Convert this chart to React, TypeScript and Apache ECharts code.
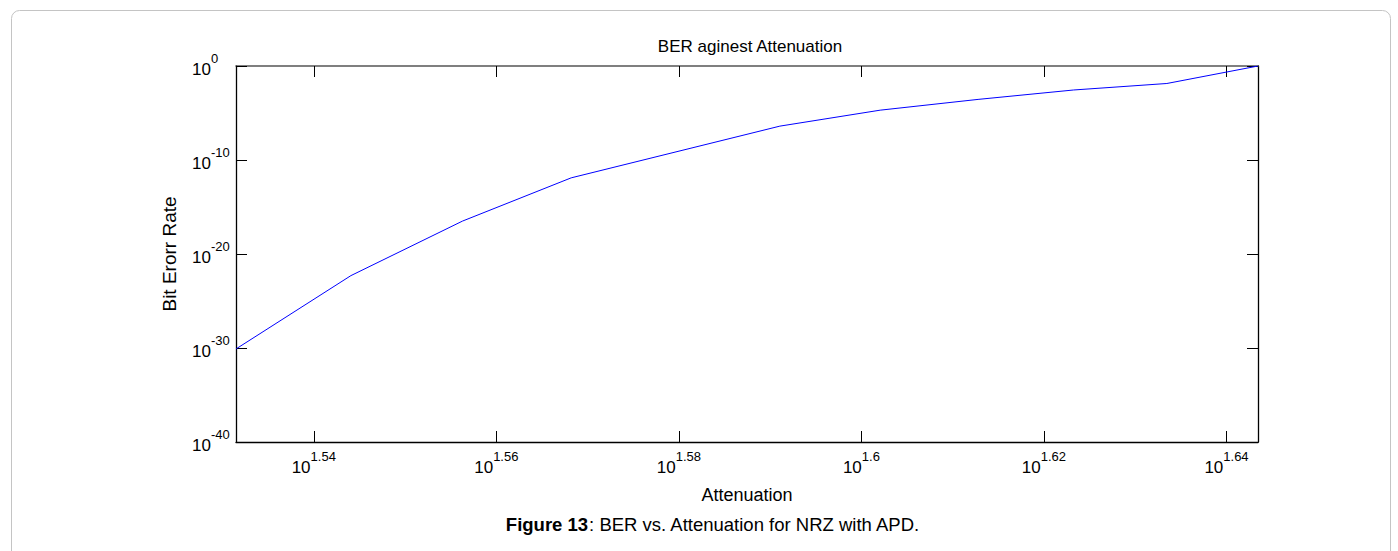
import React, { useEffect, useRef, useState } from "react";
import * as echarts from "echarts";

// Attenuation (dB) at each point of the curve
const attenuation = [34, 35, 36, 37, 39, 40, 41, 42, 43, 44];
// Bit error rate
const ber = [7.9e-31, 5.0e-23, 3.2e-17, 1.26e-12, 4.0e-7, 2.0e-5, 2.8e-4, 2.8e-3, 1.38e-2, 1];
// x tick positions, as exponents of 10
const xTickExponents = [1.54, 1.56, 1.58, 1.6, 1.62, 1.64];
// y axis range and step, as exponents of 10
const yExpMin = -40;
const yExpMax = 0;
const yExpStep = 10;

const titleText = "BER aginest Attenuation";
const xName = "Attenuation";
const yName = "Bit Erorr Rate";
const captionBold = "Figure 13";
const captionRest = ": BER vs. Attenuation for NRZ with APD.";

const FONT = "'Liberation Sans', Arial, sans-serif";

export default function App() {
  const ref = useRef<HTMLDivElement>(null);
  const [err, setErr] = useState<string>("");
  useEffect(() => {
    if (!ref.current) return;
    const chart = echarts.init(ref.current, null, { renderer: "svg" });
    // log10 axes: positions come from the library's value scale on log10(values)
    const xMin = Math.log10(attenuation[0]);
    const xMax = Math.log10(attenuation[attenuation.length - 1]);
    const rich = {
      b: { fontSize: 17, lineHeight: 19, padding: [6, 0, 0, 0], color: "#000", fontFamily: FONT },
      s: { fontSize: 13, lineHeight: 13, padding: [0, 0, 16, 0], color: "#000", fontFamily: FONT },
    };
    const mkLine = (color = "#000", width = 1.3) => ({
      show: true,
      onZero: false,
      lineStyle: { color, width },
    });
    const tick = (custom?: number[]) => ({
      show: true,
      inside: true,
      length: 11,
      ...(custom ? { customValues: custom } : {}),
      lineStyle: { color: "#000", width: 1 },
    });
    const option: any = {
      animation: false,
      backgroundColor: "#fff",
      textStyle: { fontFamily: FONT },
      title: [
        {
          text: titleText,
          left: 745,
          top: 33,
          textAlign: "center",
          textStyle: { fontSize: 17, fontWeight: "normal", color: "#000", fontFamily: FONT },
        },
        {
          text: `{bold|${captionBold}}{reg|${captionRest}}`,
          left: 708,
          top: 510,
          textAlign: "center",
          textStyle: {
            fontSize: 18.5,
            color: "#000",
            fontFamily: FONT,
            rich: {
              bold: { fontSize: 18.5, fontWeight: "bold", color: "#000", fontFamily: FONT },
              reg: { fontSize: 18.5, fontWeight: "normal", color: "#000", fontFamily: FONT },
            },
          },
        },
      ],
      graphic: [
        {
          type: "rect",
          left: 9,
          top: 8,
          shape: { width: 1379, height: 580, r: 8 },
          style: { fill: "none", stroke: "#c4c4c4", lineWidth: 1 },
          z: -10,
        },
      ],
      grid: {
        left: 236,
        top: 66,
        width: 1022,
        height: 376,
        containLabel: false,
        outerBoundsMode: "none",
      },
      xAxis: [
        {
          type: "value",
          position: "bottom",
          min: xMin,
          max: xMax,
          name: xName,
          nameLocation: "middle",
          nameGap: 44,
          nameTextStyle: { fontSize: 18, color: "#000", fontFamily: FONT },
          axisLine: mkLine(),
          splitLine: { show: false },
          axisTick: tick(xTickExponents),
          axisLabel: {
            show: true,
            margin: 13,
            customValues: xTickExponents,
            formatter: (v: number) => `{b|10}{s|${v}}`,
            rich,
          },
        },
        {
          type: "value",
          position: "top",
          min: xMin,
          max: xMax,
          axisLine: mkLine("#555", 1.6),
          splitLine: { show: false },
          axisTick: tick(xTickExponents),
          axisLabel: { show: false },
        },
      ],
      yAxis: [
        {
          type: "value",
          position: "left",
          min: yExpMin,
          max: yExpMax,
          interval: yExpStep,
          name: yName,
          nameLocation: "middle",
          nameRotate: 90,
          nameGap: 57,
          nameTextStyle: { fontSize: 19, color: "#000", fontFamily: FONT },
          axisLine: mkLine(),
          splitLine: { show: false },
          axisTick: tick(),
          axisLabel: {
            show: true,
            align: "left",
            margin: 44,
            formatter: (v: number) => `{b|10}{s|${v}}`,
            rich,
          },
        },
        {
          type: "value",
          position: "right",
          min: yExpMin,
          max: yExpMax,
          interval: yExpStep,
          axisLine: mkLine(),
          splitLine: { show: false },
          axisTick: tick(),
          axisLabel: { show: false },
        },
      ],
      series: [
        {
          type: "line",
          xAxisIndex: 0,
          yAxisIndex: 0,
          data: attenuation.map((a, i) => [Math.log10(a), Math.log10(ber[i])]),
          showSymbol: false,
          symbol: "none",
          lineStyle: { color: "#0000ff", width: 1 },
          z: 3,
        },
      ],
    };
    try {
      chart.setOption(option);
    } catch (e: any) {
      setErr(String(e?.stack || e));
    }
    return () => {
      chart.dispose();
    };
  }, []);
  return (
    <>
      <div
        ref={ref}
        style={{ position: "fixed", left: 0, top: 0, width: 1398, height: 551 }}
      />
      {err ? (
        <pre style={{ position: "fixed", left: 20, top: 200, fontSize: 11, color: "red", zIndex: 10 }}>{err}</pre>
      ) : null}
    </>
  );
}
